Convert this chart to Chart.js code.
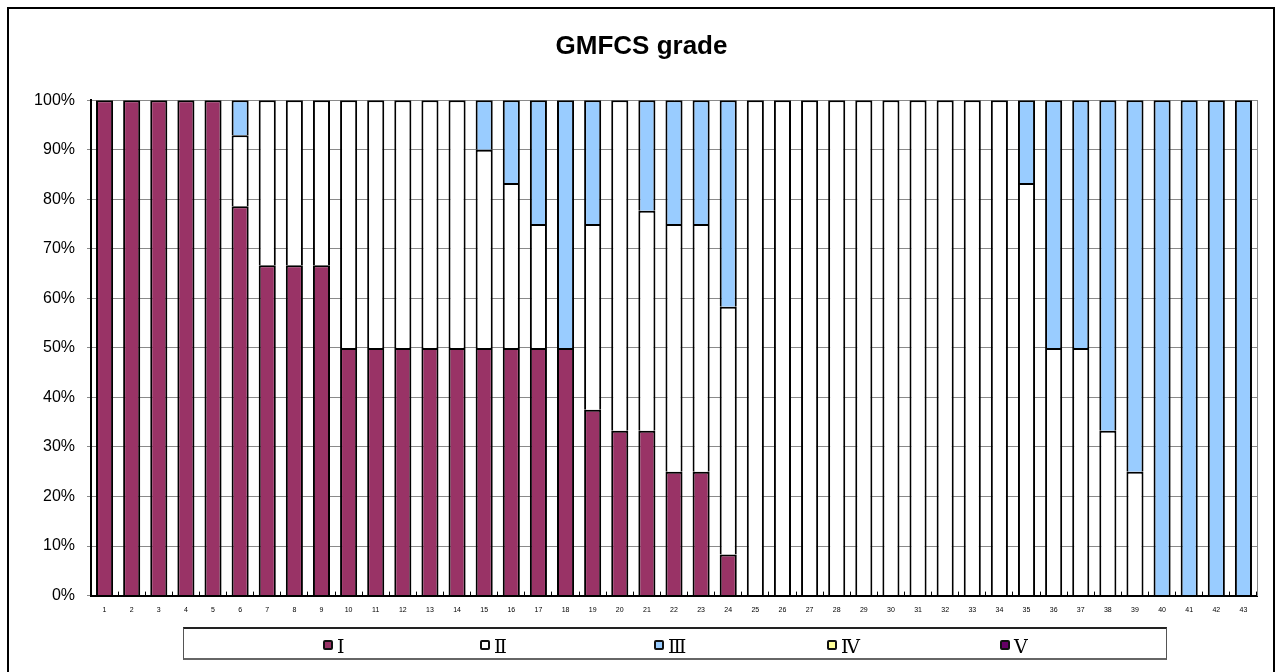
<!DOCTYPE html>
<html>
<head>
<meta charset="utf-8">
<script src="https://cdn.jsdelivr.net/npm/chart.js@4.4.1/dist/chart.umd.min.js"></script>
<style>
  html, body { margin: 0; padding: 0; background: #fff; }
  #wrap { position: relative; width: 1283px; height: 672px; overflow: hidden; }
  #frame { position: absolute; left: 7px; top: 7px; width: 1268px; height: 720px; border: 2px solid #000; box-sizing: border-box; }
  canvas { position: absolute; left: 0; top: 0; }
  #legend { position: absolute; left: 183px; top: 627px; width: 984px; height: 33px; box-sizing: border-box;
            border: 1px solid #555; border-top: 2px solid #222; border-bottom: 2px solid #666; }
  .item { position: absolute; top: 0; height: 31px; display: flex; align-items: center; }
  .mark { width: 10px; height: 10px; box-sizing: border-box; border: 2px solid #111; border-radius: 2px; margin-right: 4px; }
  .lab { font-family: 'DejaVu Serif', 'Liberation Serif', serif; font-size: 19px; color: #000; line-height: 1; position: relative; top: 2px; }
</style>
</head>
<body>
<div id="wrap">
  <div id="frame"></div>
  <canvas id="c" width="1283" height="672"></canvas>
  <div id="legend"></div>
</div>
<script>
const chartTitle = 'GMFCS grade';
const categories = ['1','2','3','4','5','6','7','8','9','10','11','12','13','14','15','16','17','18','19','20','21','22','23','24','25','26','27','28','29','30','31','32','33','34','35','36','37','38','39','40','41','42','43'];
const seriesNames = ['Ⅰ','Ⅱ','Ⅲ','Ⅳ','Ⅴ'];
const gradeI   = [100,100,100,100,100,78.6,66.7,66.7,66.7,50,50,50,50,50,50,50,50,50,37.5,33.3,33.3,25,25,8.3,0,0,0,0,0,0,0,0,0,0,0,0,0,0,0,0,0,0,0];
const gradeII  = [0,0,0,0,0,14.3,33.3,33.3,33.3,50,50,50,50,50,40,33.3,25,0,37.5,66.7,44.4,50,50,50,100,100,100,100,100,100,100,100,100,100,83.3,50,50,33.3,25,0,0,0,0];
const gradeIII = [0,0,0,0,0,7.1,0,0,0,0,0,0,0,0,10,16.7,25,50,25,0,22.3,25,25,41.7,0,0,0,0,0,0,0,0,0,0,16.7,50,50,66.7,75,100,100,100,100];
const gradeIV  = [0,0,0,0,0,0,0,0,0,0,0,0,0,0,0,0,0,0,0,0,0,0,0,0,0,0,0,0,0,0,0,0,0,0,0,0,0,0,0,0,0,0,0];
const gradeV   = [0,0,0,0,0,0,0,0,0,0,0,0,0,0,0,0,0,0,0,0,0,0,0,0,0,0,0,0,0,0,0,0,0,0,0,0,0,0,0,0,0,0,0];
const yTicks = [0,10,20,30,40,50,60,70,80,90,100];

const seriesColors = ['#993366','#FFFFFF','#99CCFF','#FFFF99','#660066'];
const legendLefts = [139, 296, 470, 643, 816];

const values = [gradeI, gradeII, gradeIII, gradeIV, gradeV];
const datasets = seriesNames.map((n, i) => ({
  label: n,
  data: values[i],
  backgroundColor: seriesColors[i],
  borderColor: '#000',
  borderWidth: { top: 2, left: 2, right: 2, bottom: 0 },
  borderSkipped: false,
  barPercentage: 0.63,
  categoryPercentage: 1.0
}));

const htmlLegend = {
  id: 'htmlLegend',
  afterUpdate(chart) {
    const box = document.getElementById('legend');
    box.innerHTML = '';
    chart.data.datasets.forEach((ds, i) => {
      const it = document.createElement('div');
      it.className = 'item';
      it.style.left = legendLefts[i] + 'px';
      const m = document.createElement('span');
      m.className = 'mark';
      m.style.background = ds.backgroundColor;
      const t = document.createElement('span');
      t.className = 'lab';
      t.textContent = ds.label;
      it.appendChild(m); it.appendChild(t);
      box.appendChild(it);
    });
  }
};

const gridGray = '#8a8a8a';
new Chart(document.getElementById('c'), {
  type: 'bar',
  data: { labels: categories, datasets },
  plugins: [htmlLegend],
  options: {
    responsive: false,
    devicePixelRatio: 1,
    animation: false,
    layout: { padding: { left: 26, right: 26, top: 0, bottom: 44 } },
    plugins: {
      legend: { display: false },
      tooltip: { enabled: false },
      title: {
        display: true,
        text: chartTitle,
        color: '#000',
        font: { family: "'Liberation Sans', Arial, sans-serif", size: 26, weight: 'bold' },
        padding: { top: 31, bottom: 38 }
      }
    },
    scales: {
      x: {
        stacked: true,
        grid: { display: true, drawOnChartArea: false, drawTicks: true, tickLength: -4, color: '#000', lineWidth: 1, offset: true },
        border: { display: true, color: '#000', width: 2 },
        ticks: { color: '#000', font: { family: "'Liberation Sans', Arial, sans-serif", size: 7 }, maxRotation: 0, autoSkip: false, padding: 14 }
      },
      y: {
        stacked: true,
        min: 0, max: 100,
        afterBuildTicks: s => { s.ticks = yTicks.map(v => ({ value: v })); },
        afterFit: s => { s.width = 65; },
        grid: { color: gridGray, lineWidth: 1, drawTicks: true, tickLength: 4, tickColor: gridGray },
        border: { display: true, color: '#000', width: 2 },
        ticks: {
          color: '#000',
          padding: 12,
          font: { family: "'Liberation Sans', Arial, sans-serif", size: 16 },
          callback: v => v + '%'
        }
      },
      y2: {
        position: 'right',
        min: 0, max: 100,
        grid: { display: false, drawOnChartArea: false, drawTicks: false },
        border: { display: true, color: gridGray, width: 1 },
        ticks: { display: false }
      }
    }
  }
});
</script>
</body>
</html>
